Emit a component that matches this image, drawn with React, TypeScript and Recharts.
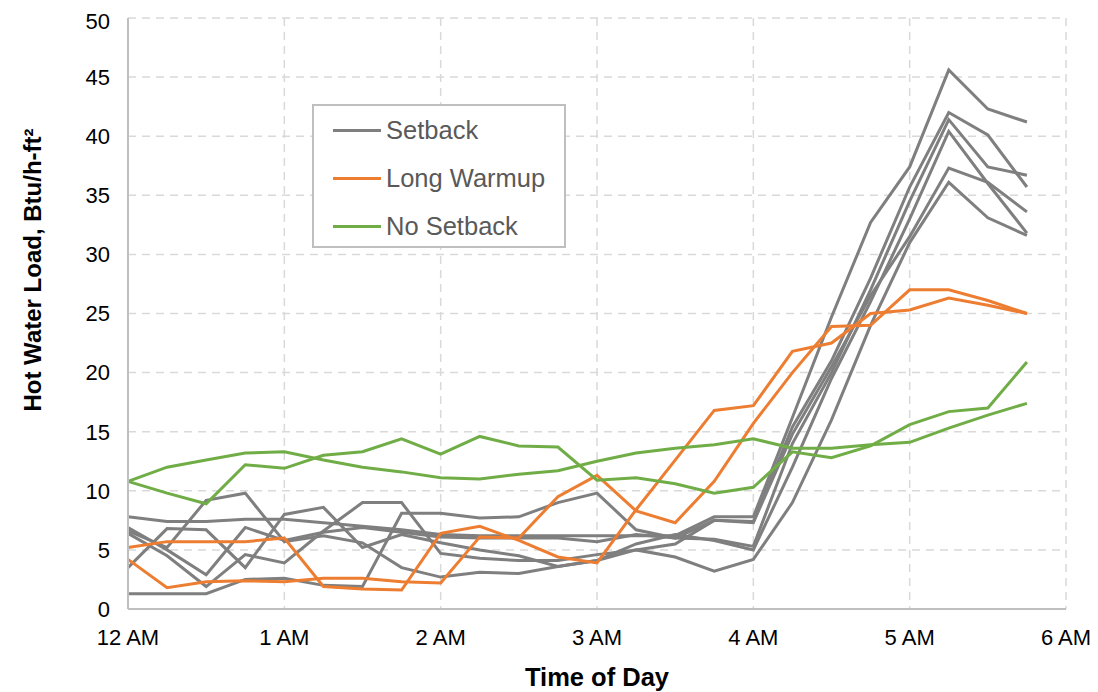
import { LineChart, Line, XAxis, YAxis, CartesianGrid } from 'recharts'

// time in hours after midnight, 15-minute steps
const hours = [
  0, 0.25, 0.5, 0.75, 1, 1.25, 1.5, 1.75, 2, 2.25, 2.5, 2.75,
  3, 3.25, 3.5, 3.75, 4, 4.25, 4.5, 4.75, 5, 5.25, 5.5, 5.75,
]

const xTicks = [0, 1, 2, 3, 4, 5, 6]
const xTickLabels = ['12 AM', '1 AM', '2 AM', '3 AM', '4 AM', '5 AM', '6 AM']
const yTicks = [0, 5, 10, 15, 20, 25, 30, 35, 40, 45, 50]

// Setback runs (gray)
const setback1 = [7.8, 7.4, 7.4, 7.6, 7.6, 7.3, 7.0, 6.7, 6.3, 6.2, 6.2, 6.2, 6.2, 6.2, 6.2, 7.8, 7.8, 16.2, 24.7, 32.7, 37.4, 45.6, 42.3, 41.2]
const setback2 = [1.3, 1.3, 1.3, 2.5, 2.6, 2.0, 1.9, 8.1, 8.1, 7.7, 7.8, 9.0, 9.8, 6.7, 6.0, 7.5, 7.4, 15.4, 21.0, 28.0, 35.7, 42.0, 40.1, 35.7]
const setback3 = [6.9, 5.0, 2.9, 6.9, 5.8, 6.5, 6.9, 6.5, 6.1, 6.0, 6.0, 6.0, 5.7, 6.3, 6.0, 5.9, 5.3, 14.0, 20.0, 27.0, 34.5, 41.4, 37.4, 36.7]
const setback4 = [3.5, 6.8, 6.7, 3.5, 8.0, 8.6, 5.2, 6.3, 5.6, 5.0, 4.5, 3.6, 4.1, 5.5, 6.3, 5.8, 5.0, 12.0, 19.5, 26.0, 33.0, 40.4, 36.0, 31.8]
const setback5 = [6.4, 4.5, 1.9, 4.6, 3.9, 6.6, 9.0, 9.0, 4.7, 4.3, 4.1, 4.1, 4.6, 5.0, 5.5, 7.5, 7.3, 14.8, 20.5, 26.5, 31.5, 37.3, 36.1, 33.6]
const setback6 = [6.6, 5.2, 9.2, 9.8, 5.7, 6.2, 5.6, 3.5, 2.7, 3.1, 3.0, 3.6, 4.1, 5.0, 4.4, 3.2, 4.2, 9.0, 16.0, 24.0, 31.0, 36.1, 33.1, 31.6]

// Long warmup runs (orange)
const warmup1 = [5.2, 5.7, 5.7, 5.7, 6.0, 1.9, 1.7, 1.6, 6.4, 7.0, 5.8, 4.4, 3.9, 8.4, 12.6, 16.8, 17.2, 21.8, 22.5, 25.0, 25.3, 26.3, 25.7, 25.0]
const warmup2 = [4.2, 1.8, 2.3, 2.4, 2.3, 2.6, 2.6, 2.3, 2.2, 6.1, 6.0, 9.5, 11.3, 8.3, 7.3, 10.8, 15.7, 20.0, 23.9, 24.0, 27.0, 27.0, 26.1, 25.0]

// No setback runs (green)
const noSetback1 = [10.8, 12.0, 12.6, 13.2, 13.3, 12.6, 12.0, 11.6, 11.1, 11.0, 11.4, 11.7, 12.5, 13.2, 13.6, 13.9, 14.4, 13.6, 13.6, 13.9, 14.1, 15.3, 16.4, 17.4]
const noSetback2 = [10.8, 9.8, 8.9, 12.2, 11.9, 13.0, 13.3, 14.4, 13.1, 14.6, 13.8, 13.7, 10.9, 11.1, 10.6, 9.8, 10.3, 13.3, 12.8, 13.8, 15.6, 16.7, 17.0, 20.9]

const GRAY = '#7f7f7f'
const ORANGE = '#ed7d31'
const GREEN = '#70ad47'

const seriesList = [
  { key: 's1', values: setback1, color: GRAY },
  { key: 's2', values: setback2, color: GRAY },
  { key: 's3', values: setback3, color: GRAY },
  { key: 's4', values: setback4, color: GRAY },
  { key: 's5', values: setback5, color: GRAY },
  { key: 's6', values: setback6, color: GRAY },
  { key: 'w1', values: warmup1, color: ORANGE },
  { key: 'w2', values: warmup2, color: ORANGE },
  { key: 'n1', values: noSetback1, color: GREEN },
  { key: 'n2', values: noSetback2, color: GREEN },
]

const legendItems = [
  { name: 'Setback', color: GRAY },
  { name: 'Long Warmup', color: ORANGE },
  { name: 'No Setback', color: GREEN },
]

const data = hours.map((t, i) => {
  const row: Record<string, number> = { t }
  seriesList.forEach((s) => {
    row[s.key] = s.values[i]
  })
  return row
})

const FONT = '"Liberation Sans", Arial, sans-serif'

// legend drawn as an overlay box so it doesn't eat into the plot area
function LegendBox() {
  return (
    <div
      style={{
        position: 'absolute',
        left: 304,
        top: 96,
        width: 254,
        height: 144,
        boxSizing: 'border-box',
        border: '2px solid #bfbfbf',
        background: '#fff',
        fontFamily: FONT,
        fontSize: 25.5,
        color: '#595959',
        paddingTop: 0,
      }}
    >
      {legendItems.map((item) => (
        <div key={item.name} style={{ display: 'flex', alignItems: 'center', height: 48 }}>
          <div style={{ width: 48, height: 3, background: item.color, marginLeft: 19, marginRight: 5 }} />
          <span>{item.name}</span>
        </div>
      ))}
    </div>
  )
}

function YTitle() {
  return (
    <text
      x={24}
      y={262}
      transform="rotate(-90 24 262)"
      textAnchor="middle"
      dominantBaseline="central"
      fontFamily={FONT}
      fontWeight="bold"
      fontSize={24}
      fill="#000"
    >
      Hot Water Load, Btu/h-ft²
    </text>
  )
}

export default function App() {
  return (
    <div style={{ position: 'relative', width: 1090, height: 684 }}>
      <LineChart width={1090} height={684} data={data} margin={{ top: 10, right: 32, left: 0, bottom: 0 }}>
        <CartesianGrid stroke="#d9d9d9" strokeWidth={1.5} strokeDasharray="8 6" />
        <XAxis
          dataKey="t"
          type="number"
          domain={[0, 6]}
          ticks={xTicks}
          tickFormatter={(v) => xTickLabels[xTicks.indexOf(v)]}
          height={83}
          tickLine={false}
          tickMargin={14}
          axisLine={{ stroke: '#bfbfbf', strokeWidth: 2 }}
          tick={{ fontFamily: FONT, fontSize: 22, fill: '#000' }}
          label={{
            value: 'Time of Day',
            position: 'insideBottom',
            offset: 6,
            style: { fontFamily: FONT, fontWeight: 'bold', fontSize: 25.5, fill: '#000' },
          }}
        />
        <YAxis
          type="number"
          domain={[0, 50]}
          ticks={yTicks}
          width={120}
          tickLine={false}
          tickMargin={12}
          axisLine={{ stroke: '#bfbfbf', strokeWidth: 2 }}
          tick={{ fontFamily: FONT, fontSize: 22, fill: '#000' }}
          label={<YTitle />}
        />
        {seriesList.map((s) => (
          <Line
            key={s.key}
            dataKey={s.key}
            stroke={s.color}
            strokeWidth={3}
            dot={false}
            activeDot={false}
            legendType="none"
            isAnimationActive={false}
          />
        ))}
      </LineChart>
      <LegendBox />
    </div>
  )
}
